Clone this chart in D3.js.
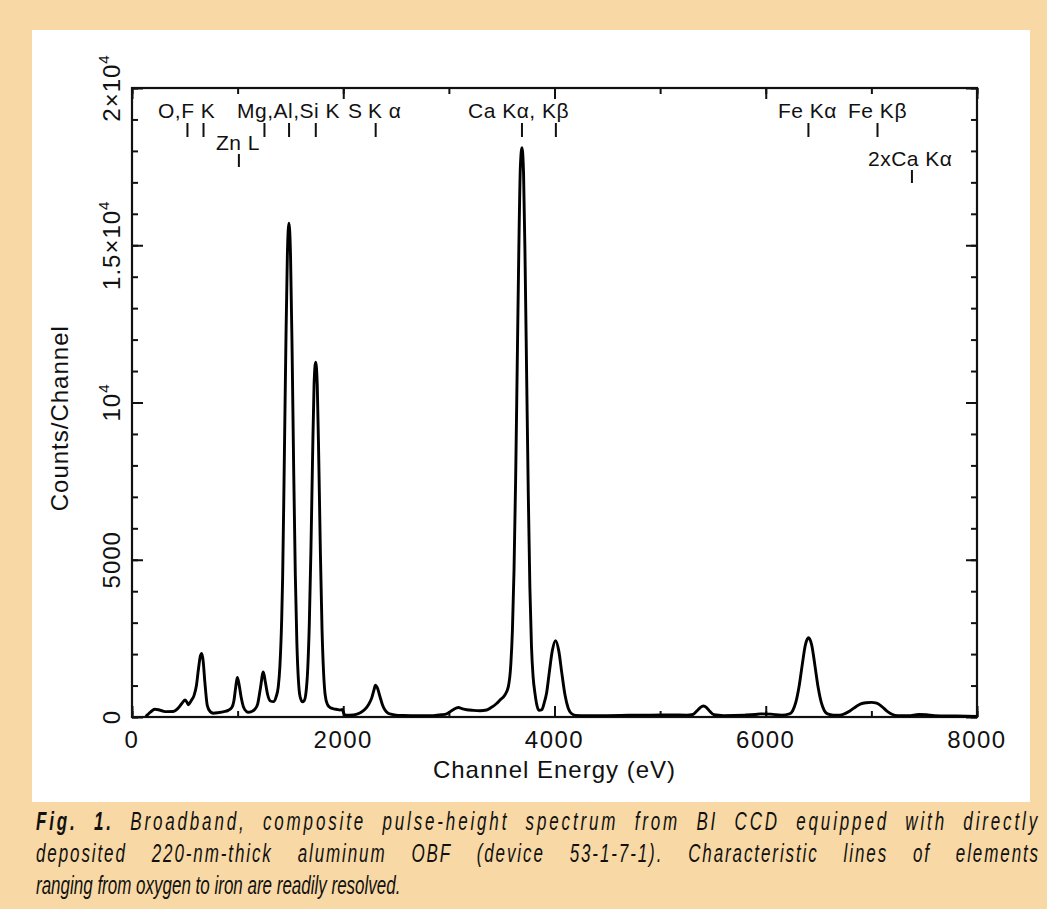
<!DOCTYPE html>
<html>
<head>
<meta charset="utf-8">
<script src="https://cdn.jsdelivr.net/npm/d3@7"></script>
<style>
  body { margin: 0; background: #f8d8a4; }
  svg { display: block; }
  text { font-family: "Liberation Sans", Arial, Helvetica, sans-serif; fill: #111; }
</style>
</head>
<body>
<div id="chart"></div>
<script>
// spectrum (eV, counts/channel)
var energy = [130,160,190,218,250,290,328,391,430,470,502,520,535,560,587,610,630,648,660,673,690,713,740,770,820,870,910,945,965,982,997,1013,1032,1054,1085,1101,1130,1164,1190,1215,1243,1262,1285,1310,1338,1365,1385,1400,1417,1426,1441,1456,1471,1486,1501,1516,1531,1546,1561,1576,1591,1612,1630,1649,1664,1679,1694,1709,1724,1739,1754,1769,1784,1799,1814,1829,1850,1875,1910,1940,1969,1990,2005,2016,2060,2095,2130,2170,2206,2240,2269,2290,2305,2320,2348,2370,2395,2420,2450,2500,2568,2700,2853,2930,2979,3040,3090,3130,3169,3230,3294,3358,3400,3452,3484,3530,3563,3587,3602,3617,3632,3647,3662,3677,3692,3707,3722,3737,3752,3767,3782,3797,3815,3835,3855,3880,3900,3925,3950,3980,4010,4040,4070,4100,4130,4160,4200,4300,4500,4700,4900,5100,5250,5310,5350,5380,5409,5440,5470,5510,5600,5800,5900,5950,6050,6150,6225,6255,6285,6315,6345,6375,6405,6435,6465,6495,6525,6555,6585,6640,6700,6750,6800,6850,6900,6950,7000,7050,7100,7150,7200,7250,7350,7450,7520,7600,7800,8000]
var counts = [20,110,200,245,230,190,170,175,260,420,540,470,390,520,680,1000,1550,1950,2020,1800,1100,360,170,120,140,170,210,300,520,950,1260,1050,650,330,170,150,170,250,420,900,1430,1120,700,510,490,650,965,1600,3085,4400,7900,11650,14700,15700,14650,11600,7800,4550,2350,1150,650,487,520,830,1550,3000,5300,8150,10600,11280,10550,8050,5150,2800,1400,700,400,300,260,240,222,240,120,65,60,65,90,150,245,400,600,850,1010,950,645,400,222,130,90,60,50,40,45,70,100,230,300,260,230,210,200,222,300,430,540,700,965,1700,2800,4700,7550,11150,14800,17500,18100,17300,14400,10700,7050,4100,2250,1300,750,350,210,230,420,760,1400,2120,2430,2110,1380,690,280,110,50,40,45,55,60,65,60,80,200,300,350,300,180,70,45,60,80,100,90,60,100,200,470,960,1650,2290,2520,2290,1650,960,470,200,100,60,60,110,200,320,420,455,465,440,330,180,80,45,40,80,70,40,30,20]

// line identifications: energy of marker, row (0 = top row)
var lineEnergy = [525, 677, 1012, 1254, 1487, 1740, 2307, 3692, 4013, 6404, 7058, 7384]
var lineRow    = [0, 0, 1, 0, 0, 0, 0, 0, 0, 0, 0, 2]

// label texts and the energy where each starts
var labelText  = ["O,F K", "Zn L", "Mg,Al,Si K", "S", "K α", "Ca Kα, Kβ", "Fe Kα", "Fe Kβ", "2xCa Kα"]
var labelStart = [246, 795, 994, 2045, 2234, 3181, 6116, 6779, 6968]
var labelRow   = [0, 1, 0, 0, 0, 0, 0, 0, 2]

var xTicks = [0, 2000, 4000, 6000, 8000]
var yTicks = [0, 5000, 10000, 15000, 20000]
var yTickBase = ["0", "5000", "10", "1.5×10", "2×10"]
var yTickSup  = ["", "", "4", "4", "4"]

var captionLines = [
  "Broadband, composite pulse-height spectrum from BI CCD equipped with directly",
  "deposited 220-nm-thick aluminum OBF (device 53-1-7-1). Characteristic lines of elements",
  "ranging from oxygen to iron are readily resolved."
]

var dims = {
  width: 1047, height: 909,
  left: 132, right: 977, top: 88, bottom: 717
}

var svg = d3.select("#chart").append("svg")
  .attr("width", dims.width)
  .attr("height", dims.height)

// background panels
svg.append("rect").attr("width", dims.width).attr("height", dims.height).attr("fill", "#f8d8a4")
svg.append("rect").attr("x", 32).attr("y", 30).attr("width", 998).attr("height", 772).attr("fill", "#fff")

var x = d3.scaleLinear().domain([0, 8000]).range([dims.left, dims.right])
var y = d3.scaleLinear().domain([0, 20000]).range([dims.bottom, dims.top])

// ticks, all pointing inward
function tickAxis(axis, pos, step, size) {
  var g = svg.append("g").attr("transform", pos)
  g.call(axis.tickValues(d3.range(0, (axis.scale().domain()[1]) + 1, step)).tickSize(size).tickFormat(""))
  g.select(".domain").remove()
  g.selectAll("line").attr("stroke", "#111").attr("stroke-width", 2)
}
tickAxis(d3.axisBottom(x), `translate(0,${dims.bottom})`, 1000, -6)
tickAxis(d3.axisBottom(x), `translate(0,${dims.bottom})`, 2000, -11)
tickAxis(d3.axisTop(x), `translate(0,${dims.top})`, 1000, -6)
tickAxis(d3.axisTop(x), `translate(0,${dims.top})`, 2000, -11)
tickAxis(d3.axisLeft(y), `translate(${dims.left},0)`, 1000, -6)
tickAxis(d3.axisLeft(y), `translate(${dims.left},0)`, 5000, -11)
tickAxis(d3.axisRight(y), `translate(${dims.right},0)`, 1000, -6)
tickAxis(d3.axisRight(y), `translate(${dims.right},0)`, 5000, -11)

// frame
svg.append("rect")
  .attr("x", dims.left).attr("y", dims.top)
  .attr("width", dims.right - dims.left).attr("height", dims.bottom - dims.top)
  .attr("fill", "none").attr("stroke", "#111").attr("stroke-width", 2.2)

// spectrum
var pts = energy.map((e, i) => [e, counts[i]])
svg.append("path")
  .datum(pts)
  .attr("fill", "none")
  .attr("stroke", "#000")
  .attr("stroke-width", 2.9)
  .attr("stroke-linejoin", "round")
  .attr("d", d3.line().x(d => x(d[0])).y(d => y(d[1])).curve(d3.curveMonotoneX))

// x tick labels
svg.append("g").selectAll("text")
  .data(xTicks).enter().append("text")
  .attr("x", d => x(d))
  .attr("y", 748)
  .attr("text-anchor", "middle")
  .attr("font-size", "24px")
  .attr("letter-spacing", "1.5px")
  .text(d => d)

// y tick labels (rotated, with superscripts)
yTicks.forEach((v, i) => {
  var t = svg.append("text")
    .attr("transform", `translate(120,${y(v)}) rotate(-90)`)
    .attr("text-anchor", "middle")
    .attr("font-size", "24px")
    .attr("letter-spacing", "1px")
  t.append("tspan").text(yTickBase[i])
  if (yTickSup[i]) {
    t.append("tspan").attr("font-size", "15px").attr("dy", -11).text(yTickSup[i])
  }
})

// axis titles
svg.append("text")
  .attr("x", x(4000)).attr("y", 778)
  .attr("text-anchor", "middle")
  .attr("font-size", "24px")
  .attr("letter-spacing", "1px")
  .text("Channel Energy (eV)")

svg.append("text")
  .attr("transform", `translate(68,${y(9500)}) rotate(-90)`)
  .attr("text-anchor", "middle")
  .attr("font-size", "24px")
  .attr("letter-spacing", "1px")
  .text("Counts/Channel")

// line markers
var rowTick = [[123, 137], [154, 167], [170, 183]]
var rowBase = [118, 150, 166]
svg.append("g").selectAll("line")
  .data(lineEnergy).enter().append("line")
  .attr("x1", d => x(d)).attr("x2", d => x(d))
  .attr("y1", (d, i) => rowTick[lineRow[i]][0])
  .attr("y2", (d, i) => rowTick[lineRow[i]][1])
  .attr("stroke", "#111").attr("stroke-width", 2)

svg.append("g").selectAll("text")
  .data(labelText).enter().append("text")
  .attr("x", (d, i) => x(labelStart[i]))
  .attr("y", (d, i) => rowBase[labelRow[i]])
  .attr("font-size", "21px")
  .attr("letter-spacing", "0.5px")
  .text(d => d)

// caption, condensed italic (squeezed horizontally), first two lines justified
var squeeze = 0.68
var capLetter = [4.2, 2.8, 0]
var target = 1004 / squeeze
var cap = svg.append("g").attr("font-size", "25px").attr("font-style", "italic")
captionLines.forEach((line, i) => {
  var t = cap.append("text")
    .attr("transform", `translate(36,${830 + i * 32}) scale(${squeeze},1)`)
    .attr("letter-spacing", capLetter[i])
  if (i === 0) {
    t.append("tspan").attr("font-weight", "bold").text("Fig. 1. ")
  }
  t.append("tspan").text(line)
  if (i < 2) {
    var gaps = (t.text().match(/ /g) || []).length
    var ws = 0
    for (var k = 0; k < 3; k++) {
      var len = t.node().getComputedTextLength()
      ws += (target - len) / gaps
      t.attr("word-spacing", ws)
    }
  }
})
</script>
</body>
</html>
